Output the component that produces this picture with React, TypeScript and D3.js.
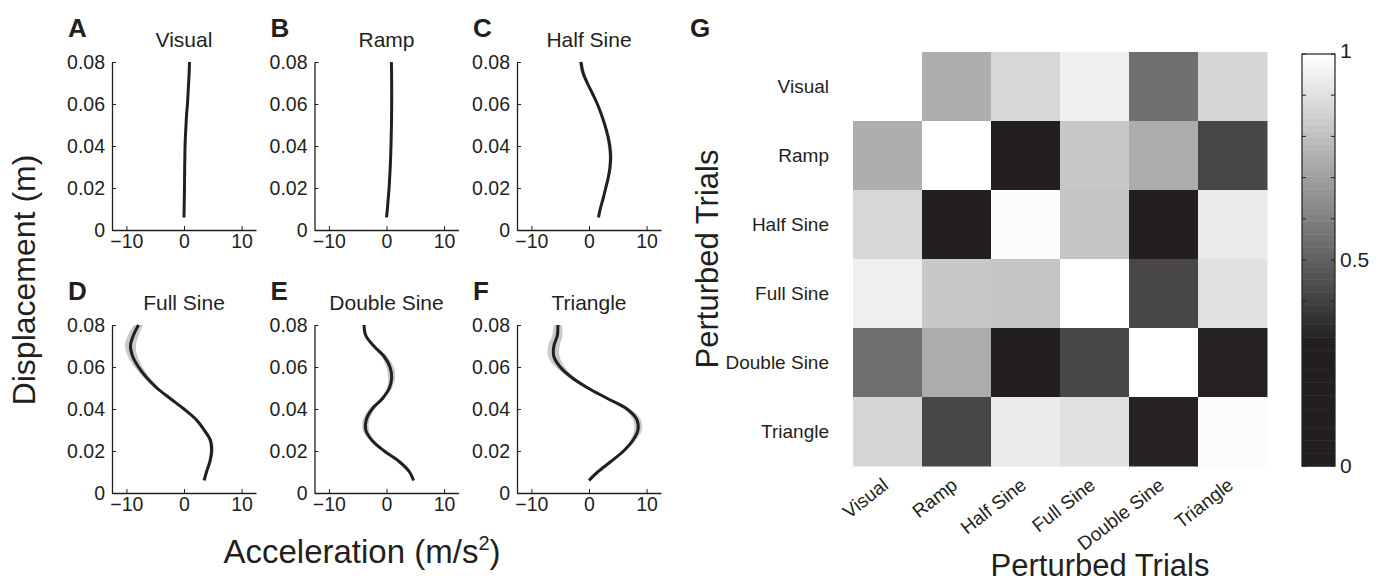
import * as React from 'react';
import {useEffect, useRef} from 'react';
import * as d3 from 'd3';

const INK = '#231f20';
const FONT = '"Liberation Sans", Arial, sans-serif';

// displacement grid (m) shared by all six profiles
const displacement = [0.006, 0.01, 0.015, 0.02, 0.025, 0.03, 0.035, 0.04, 0.045, 0.05, 0.055, 0.06, 0.065, 0.07, 0.075, 0.08];

const panelLetters = ['A', 'B', 'C', 'D', 'E', 'F'];
const conditions = ['Visual', 'Ramp', 'Half Sine', 'Full Sine', 'Double Sine', 'Triangle'];

// mean acceleration (m/s^2) along the displacement grid
const accVisual = [0, 0.02, 0.05, 0.08, 0.1, 0.12, 0.15, 0.18, 0.25, 0.35, 0.45, 0.6, 0.7, 0.8, 0.9, 0.95];
const accRamp = [0, 0.15, 0.3, 0.45, 0.55, 0.65, 0.72, 0.78, 0.82, 0.86, 0.88, 0.9, 0.9, 0.9, 0.88, 0.85];
const accHalfSine = [1.65, 1.95, 2.45, 2.9, 3.35, 3.65, 3.75, 3.6, 3.25, 2.75, 2.15, 1.45, 0.6, -0.3, -1.05, -1.4];
const accFullSine = [3.5, 3.9, 4.5, 4.8, 4.6, 3.5, 2.1, 0, -2.4, -4.7, -6.5, -7.9, -8.9, -9.3, -8.8, -7.9];
const accDoubleSine = [4.7, 4.0, 2.2, -0.4, -2.5, -3.6, -3.5, -2.5, -0.7, 0.5, 0.9, 0.6, -0.4, -2.2, -3.6, -3.9];
const accTriangle = [0, 1.5, 3.8, 6.0, 7.6, 8.5, 8.3, 6.6, 3.2, -0.2, -3.0, -5.0, -6.1, -6.1, -5.5, -5.4];

// spread (m/s^2) of the grey band around each mean
const sdVisual = [0.15, 0.15, 0.15, 0.15, 0.15, 0.15, 0.15, 0.15, 0.15, 0.15, 0.15, 0.15, 0.15, 0.15, 0.15, 0.15];
const sdRamp = [0.15, 0.15, 0.15, 0.15, 0.15, 0.15, 0.15, 0.15, 0.15, 0.15, 0.15, 0.15, 0.15, 0.15, 0.15, 0.15];
const sdHalfSine = [0.2, 0.2, 0.2, 0.2, 0.25, 0.3, 0.35, 0.35, 0.3, 0.25, 0.2, 0.2, 0.25, 0.3, 0.35, 0.35];
const sdFullSine = [0.2, 0.25, 0.3, 0.35, 0.35, 0.35, 0.35, 0.35, 0.4, 0.45, 0.55, 0.7, 0.85, 0.95, 0.95, 0.8];
const sdDoubleSine = [0.2, 0.2, 0.25, 0.3, 0.4, 0.55, 0.6, 0.5, 0.35, 0.45, 0.6, 0.65, 0.5, 0.35, 0.3, 0.25];
const sdTriangle = [0.2, 0.25, 0.3, 0.35, 0.5, 0.65, 0.7, 0.55, 0.4, 0.4, 0.55, 0.8, 1.0, 1.0, 0.9, 0.7];

const means = [accVisual, accRamp, accHalfSine, accFullSine, accDoubleSine, accTriangle];
const spreads = [sdVisual, sdRamp, sdHalfSine, sdFullSine, sdDoubleSine, sdTriangle];

const yTicks = [0, 0.02, 0.04, 0.06, 0.08];
const xTicks = [-10, 0, 10];

// similarity matrix, rows/columns in the order of `conditions`
const simVisual = [1.0, 0.745, 0.876, 0.949, 0.548, 0.87];
const simRamp = [0.745, 1.0, 0.12, 0.828, 0.739, 0.421];
const simHalfSine = [0.876, 0.12, 0.99, 0.819, 0.15, 0.933];
const simFullSine = [0.949, 0.828, 0.819, 1.0, 0.421, 0.905];
const simDoubleSine = [0.548, 0.739, 0.15, 0.421, 1.0, 0.31];
const simTriangle = [0.87, 0.421, 0.933, 0.905, 0.31, 0.99];
const similarity = [simVisual, simRamp, simHalfSine, simFullSine, simDoubleSine, simTriangle];

const colorbarTicks = [0, 0.1, 0.2, 0.3, 0.4, 0.5, 0.6, 0.7, 0.8, 0.9, 1];
const colorbarLabels = [0, 0.5, 1];

const W = 1387;
const H = 582;

const grey = d3.scaleLinear<string>()
  .domain([0.3, 1])
  .range([INK, '#ffffff'])
  .clamp(true);

export default function App() {
  const ref = useRef<SVGSVGElement>(null);

  useEffect(() => {
    const svg = d3.select(ref.current);
    svg.selectAll('*').remove();
    svg.style('font-family', FONT);

    // ---- profile panels A-F ----
    const panelW = 144;
    const panelH = 168;
    means.forEach((mean, i) => {
      const col = i % 3;
      const row = Math.floor(i / 3);
      const left = 112 + col * 202.5;
      const top = 62 + row * 263;

      const x = d3.scaleLinear().domain([-12.5, 12.5]).range([left, left + panelW]);
      const y = d3.scaleLinear().domain([0, 0.08]).range([top + panelH, top]);

      const g = svg.append('g');

      const pts = displacement.map((d, k) => ({d, v: mean[k], s: spreads[i][k]}));

      g.append('path')
        .datum(pts)
        .attr('fill', '#c9cacc')
        .attr('d', d3.area<any>()
          .y(p => y(p.d))
          .x0(p => x(p.v - p.s))
          .x1(p => x(p.v + p.s))
          .curve(d3.curveCatmullRom));

      g.append('path')
        .datum(pts)
        .attr('fill', 'none')
        .attr('stroke', INK)
        .attr('stroke-width', 3)
        .attr('d', d3.line<any>()
          .x(p => x(p.v))
          .y(p => y(p.d))
          .curve(d3.curveCatmullRom));

      const xAxis = g.append('g')
        .attr('transform', `translate(0,${top + panelH})`)
        .call(d3.axisBottom(x).tickValues(xTicks).tickSizeInner(-4).tickSizeOuter(0).tickPadding(4).tickFormat(d3.format('d')));
      const yAxis = g.append('g')
        .attr('transform', `translate(${left},0)`)
        .call(d3.axisLeft(y).tickValues(yTicks).tickSizeInner(-4).tickSizeOuter(0).tickPadding(7)
          .tickFormat(d => (+d === 0 ? '0' : d3.format('.2f')(+d))));

      [xAxis, yAxis].forEach(a => {
        a.select('.domain').attr('stroke', INK).attr('stroke-width', 1.3);
        a.selectAll('.tick line').attr('stroke', INK);
        a.selectAll('.tick text').attr('fill', INK).style('font-size', '19.5px').style('font-family', FONT);
      });

      g.append('text')
        .attr('x', left + panelW / 2)
        .attr('y', top - 15)
        .attr('text-anchor', 'middle')
        .attr('fill', INK)
        .style('font-size', '21px')
        .text(conditions[i]);

      g.append('text')
        .attr('x', left - 44)
        .attr('y', top - 25)
        .attr('fill', INK)
        .style('font-size', '26px')
        .style('font-weight', 'bold')
        .text(panelLetters[i]);
    });

    svg.append('text')
      .attr('transform', 'translate(35,280) rotate(-90)')
      .attr('text-anchor', 'middle')
      .attr('fill', INK)
      .style('font-size', '32px')
      .text('Displacement (m)');

    const accLabel = svg.append('text')
      .attr('x', 362)
      .attr('y', 563)
      .attr('text-anchor', 'middle')
      .attr('fill', INK)
      .style('font-size', '33px');
    accLabel.append('tspan').text('Acceleration (m/s');
    accLabel.append('tspan').attr('dy', -13).style('font-size', '20px').text('2');
    accLabel.append('tspan').attr('dy', 13).text(')');

    // ---- similarity matrix G ----
    const hx = d3.scaleBand<string>().domain(conditions).range([853, 1267]);
    const hy = d3.scaleBand<string>().domain(conditions).range([52, 466]);

    const cells = similarity.flatMap((r, ri) => r.map((v, ci) => ({r: conditions[ri], c: conditions[ci], v})));
    svg.append('g')
      .selectAll('rect')
      .data(cells)
      .join('rect')
      .attr('x', d => hx(d.c)!)
      .attr('y', d => hy(d.r)!)
      .attr('width', hx.bandwidth() + 0.5)
      .attr('height', hy.bandwidth() + 0.5)
      .attr('fill', d => grey(d.v));

    svg.append('g')
      .selectAll('text')
      .data(conditions)
      .join('text')
      .attr('x', 829)
      .attr('y', d => hy(d)! + hy.bandwidth() / 2)
      .attr('dy', '0.35em')
      .attr('text-anchor', 'end')
      .attr('fill', INK)
      .style('font-size', '19px')
      .text(d => d);

    svg.append('g')
      .selectAll('text')
      .data(conditions)
      .join('text')
      .attr('transform', d => `translate(${hx(d)! + hx.bandwidth() / 2 - 6},${477}) rotate(-38)`)
      .attr('dy', '0.7em')
      .attr('text-anchor', 'end')
      .attr('fill', INK)
      .style('font-size', '19px')
      .text(d => d);

    svg.append('text')
      .attr('x', 1100)
      .attr('y', 576)
      .attr('text-anchor', 'middle')
      .attr('fill', INK)
      .style('font-size', '31px')
      .text('Perturbed Trials');

    svg.append('text')
      .attr('transform', 'translate(718,259) rotate(-90)')
      .attr('text-anchor', 'middle')
      .attr('fill', INK)
      .style('font-size', '31px')
      .text('Perturbed Trials');

    svg.append('text')
      .attr('x', 690)
      .attr('y', 37)
      .attr('fill', INK)
      .style('font-size', '26px')
      .style('font-weight', 'bold')
      .text('G');

    // ---- colorbar ----
    const cbLeft = 1302;
    const cbW = 33;
    const cy = d3.scaleLinear().domain([0, 1]).range([466, 54]);
    const steps = d3.range(64).map(k => k / 64);
    const cb = svg.append('g');
    cb.selectAll('rect.step')
      .data(steps)
      .join('rect')
      .attr('class', 'step')
      .attr('x', cbLeft)
      .attr('y', s => cy(s + 1 / 64))
      .attr('width', cbW)
      .attr('height', cy(0) - cy(1 / 64) + 0.5)
      .attr('fill', s => grey(s + 0.5 / 64));
    cb.append('rect')
      .attr('x', cbLeft)
      .attr('y', cy(1))
      .attr('width', cbW)
      .attr('height', cy(0) - cy(1))
      .attr('fill', 'none')
      .attr('stroke', INK)
      .attr('stroke-width', 1.2);
    cb.selectAll('line.tl')
      .data(colorbarTicks)
      .join('line')
      .attr('class', 'tl')
      .attr('x1', cbLeft).attr('x2', cbLeft + 4)
      .attr('y1', t => cy(t)).attr('y2', t => cy(t))
      .attr('stroke', INK);
    cb.selectAll('line.tr')
      .data(colorbarTicks)
      .join('line')
      .attr('class', 'tr')
      .attr('x1', cbLeft + cbW - 4).attr('x2', cbLeft + cbW)
      .attr('y1', t => cy(t)).attr('y2', t => cy(t))
      .attr('stroke', INK);
    cb.selectAll('text')
      .data(colorbarLabels)
      .join('text')
      .attr('x', cbLeft + cbW + 5)
      .attr('y', t => cy(t) - (t === 1 ? 3 : 0))
      .attr('dy', '0.35em')
      .attr('fill', INK)
      .style('font-size', '21px')
      .text(t => String(t));
  }, []);

  return (
    <svg ref={ref} width={W} height={H}
      style={{position: 'absolute', left: 0, top: 0, display: 'block', background: '#fff'}}/>
  );
}
